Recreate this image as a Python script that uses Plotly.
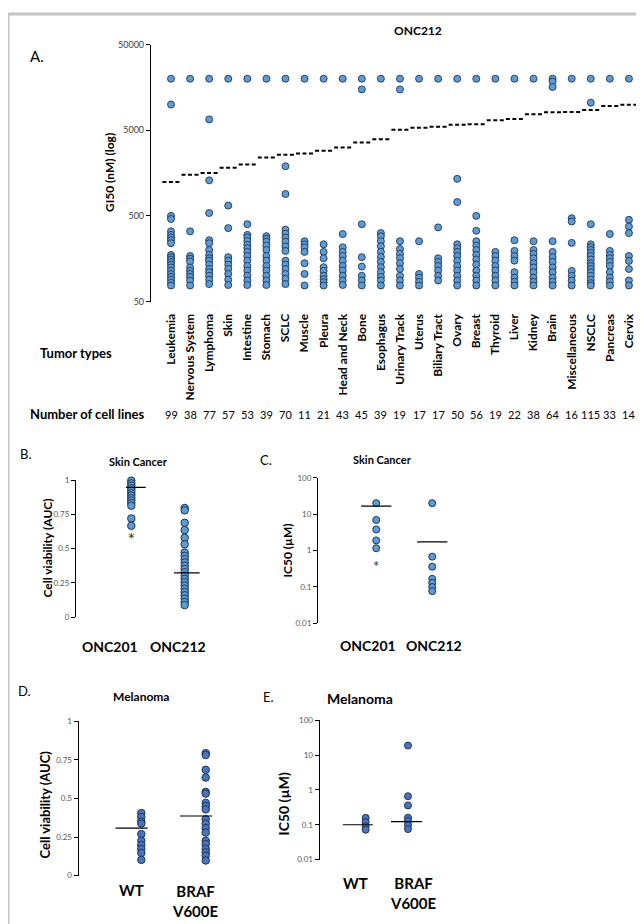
import math
import plotly.graph_objects as go

W, H = 644, 924
FONT = "Lato, 'Open Sans', sans-serif"
FILL_A = "#5f9bd3"
FILL_D = "#4a74c0"
EDGE = "#1d3557"

# ---- panel A: GI50 of ONC212 by tumor type (nM) ----
tumor_types = ["Leukemia", "Nervous System", "Lymphoma", "Skin", "Intestine", "Stomach",
               "SCLC", "Muscle", "Pleura", "Head and Neck", "Bone", "Esophagus",
               "Urinary Track", "Uterus", "Biliary Tract", "Ovary", "Breast", "Thyroid",
               "Liver", "Kidney", "Brain", "Miscellaneous", "NSCLC", "Pancreas", "Cervix"]
cell_lines = [99, 38, 77, 57, 53, 39, 70, 11, 21, 43, 45, 39, 19, 17, 17, 50, 56, 19,
              22, 38, 64, 16, 115, 33, 14]
gi50_mean = [1240, 1510, 1580, 1830, 1990, 2410, 2590, 2680, 2880, 3140, 3590, 3930,
             5070, 5350, 5490, 5780, 5880, 6540, 6780, 7690, 8110, 8170, 8610, 9570, 9900]

leukemia = [20000, 10000, 500, 460, 330, 300, 280, 260, 240, 175, 165, 155, 145, 135,
            125, 115, 105, 97, 90, 83, 77]
nervous = [20000, 330, 170, 158, 147, 125, 114, 105, 97, 88, 77]
lymphoma = [20000, 6700, 1300, 540, 260, 240, 200, 175, 160, 150, 135, 120, 110, 100, 90, 80]
skin = [20000, 660, 360, 165, 150, 135, 120, 105, 90, 78]
intestine = [20000, 400, 300, 280, 255, 230, 210, 190, 170, 150, 130, 115, 100, 88, 78]
stomach = [20000, 290, 270, 250, 225, 200, 170, 150, 130, 115, 100, 88, 78]
sclc = [20000, 1900, 900, 345, 310, 280, 250, 220, 195, 150, 135, 120, 105, 92, 80]
muscle = [20000, 253, 233, 215, 190, 140, 105, 77]
pleura = [20000, 233, 190, 160, 126, 114, 100, 91, 84, 77]
head_neck = [20000, 307, 215, 190, 170, 150, 130, 115, 100, 88, 78]
bone = [20000, 15000, 400, 165, 128, 100, 88, 77]
esophagus = [20000, 315, 289, 253, 221, 190, 166, 145, 126, 110, 97, 88, 77]
urinary = [20000, 15000, 253, 205, 180, 160, 140, 120, 100, 88, 77]
uterus = [20000, 253, 105, 95, 85, 77]
biliary = [20000, 367, 160, 145, 130, 115, 100, 88]
ovary = [20000, 1355, 725, 233, 210, 190, 170, 150, 130, 115, 100, 88, 77]
breast = [20000, 500, 335, 253, 225, 200, 175, 155, 135, 115, 100, 88, 77]
thyroid = [20000, 190, 170, 150, 130, 115, 100, 88, 77]
liver = [20000, 260, 195, 170, 150, 110, 95, 85, 77]
kidney = [20000, 253, 200, 180, 160, 140, 125, 110, 95, 85, 77]
brain = [20000, 18500, 16000, 253, 190, 165, 145, 125, 110, 95, 85, 77]
misc = [20000, 470, 430, 242, 114, 100, 88, 77]
nsclc = [20000, 10500, 400, 233, 215, 200, 185, 170, 155, 140, 130, 120, 110, 100, 90, 82, 77]
pancreas = [20000, 307, 195, 175, 160, 145, 130, 110, 95, 85, 77]
cervix = [20000, 450, 376, 315, 170, 149, 120, 88, 77]
gi50_values = [leukemia, nervous, lymphoma, skin, intestine, stomach, sclc, muscle, pleura,
               head_neck, bone, esophagus, urinary, uterus, biliary, ovary, breast, thyroid,
               liver, kidney, brain, misc, nsclc, pancreas, cervix]

# ---- panels B-E ----
skin_groups = ["ONC201", "ONC212"]
skin_auc_onc201 = [0.996, 0.976, 0.96, 0.94, 0.923, 0.904, 0.887, 0.868, 0.851, 0.832, 0.813, 0.72, 0.666]
skin_auc_onc212 = [0.796, 0.779, 0.688, 0.635, 0.579, 0.531, 0.471, 0.447, 0.423, 0.399, 0.375, 0.351,
                   0.327, 0.303, 0.279, 0.255, 0.231, 0.207, 0.183, 0.159, 0.134, 0.110, 0.087]
skin_auc_mean = [0.947, 0.322]
skin_ic50_onc201 = [20, 6.9, 3.8, 1.9, 1.16]
skin_ic50_onc212 = [20, 0.68, 0.36, 0.167, 0.13, 0.099, 0.077]
skin_ic50_mean = [16.5, 1.73]

mel_groups = ["WT", "BRAF<br>V600E"]
mel_auc_wt = [0.405, 0.379, 0.350, 0.337, 0.269, 0.226, 0.198, 0.173, 0.147, 0.102]
mel_auc_braf = [0.793, 0.781, 0.685, 0.635, 0.542, 0.531, 0.471, 0.450, 0.429, 0.365, 0.337,
                0.307, 0.279, 0.226, 0.205, 0.173, 0.151, 0.130, 0.098]
mel_auc_mean = [0.307, 0.386]
mel_ic50_wt = [0.158, 0.119, 0.09, 0.072]
mel_ic50_braf = [19, 0.66, 0.36, 0.16, 0.128, 0.099, 0.075]
mel_ic50_mean = [0.1, 0.123]


def dom_x(a, b):
    return [a / W, b / W]


def dom_y(top, bottom):
    return [1 - bottom / H, 1 - top / H]


fig = go.Figure()

xs, ys = [], []
for i, vals in enumerate(gi50_values):
    xs += [i] * len(vals)
    ys += vals
fig.add_trace(go.Scatter(x=xs, y=ys, mode="markers", xaxis="x", yaxis="y", cliponaxis=False,
                         marker=dict(size=7, color=FILL_A, line=dict(color=EDGE, width=0.9))))
mx, my = [], []
for i, m in enumerate(gi50_mean):
    mx += [i - 0.45, i + 0.45, None]
    my += [m, m, None]
fig.add_trace(go.Scatter(x=mx, y=my, mode="lines", xaxis="x", yaxis="y",
                         line=dict(color="black", width=2, dash="4px,2.5px")))


def strip(groups, means, ax, fill, size, lo, hi):
    for g, vals in enumerate(groups):
        fig.add_trace(go.Scatter(x=[g] * len(vals), y=vals, mode="markers", xaxis="x" + ax,
                                 yaxis="y" + ax, cliponaxis=False,
                                 marker=dict(size=size, color=fill, line=dict(color=EDGE, width=1))))
    lx, ly = [], []
    for g, m in enumerate(means):
        lx += [g + lo[g], g + hi[g], None]
        ly += [m, m, None]
    fig.add_trace(go.Scatter(x=lx, y=ly, mode="lines", xaxis="x" + ax, yaxis="y" + ax,
                             cliponaxis=False, line=dict(color="black", width=1.2)))


strip([skin_auc_onc201, skin_auc_onc212], skin_auc_mean, "2", FILL_A, 7.5, [-0.1, -0.2], [0.27, 0.28])
strip([skin_ic50_onc201, skin_ic50_onc212], skin_ic50_mean, "3", FILL_A, 7, [-0.27, -0.27], [0.27, 0.27])
strip([mel_auc_wt, mel_auc_braf], mel_auc_mean, "4", FILL_D, 7.5, [-0.4, -0.4], [0.1, 0.1])
strip([mel_ic50_wt, mel_ic50_braf], mel_ic50_mean, "5", FILL_D, 7, [-0.54, -0.4], [0.17, 0.33])

# asterisks under ONC201
fig.add_trace(go.Scatter(x=[0], y=[0.55], mode="text", text=["*"], xaxis="x2", yaxis="y2",
                         textfont=dict(size=18, color="#333333", family=FONT)))
fig.add_trace(go.Scatter(x=[0], y=[0.33], mode="text", text=["*"], xaxis="x3", yaxis="y3",
                         textfont=dict(size=15, color="#333333", family=FONT)))

small = dict(size=8, color="#595959", family=FONT)
yline = dict(showline=True, linecolor="black", linewidth=1.2, ticks="outside", ticklen=4,
             tickcolor="black", showgrid=False, zeroline=False, tickfont=small)
xhide = dict(showline=False, showticklabels=False, ticks="", showgrid=False, zeroline=False)

fig.update_layout(
    width=W, height=924, margin=dict(l=0, r=0, t=0, b=0),
    paper_bgcolor="white", plot_bgcolor="white", showlegend=False,
    font=dict(family=FONT, color="black"),
    xaxis=dict(domain=dom_x(143, 632), range=[-1.048, 24.58], anchor="y", tickmode="array",
               tickvals=list(range(len(tumor_types))), ticktext=tumor_types, tickangle=-90,
               ticks="", showline=False, showgrid=False, zeroline=False, ticklabelstandoff=9,
               tickfont=dict(size=12, color="black", family=FONT, weight="bold")),
    yaxis=dict(domain=dom_y(31, 291), type="log", range=[math.log10(50), math.log10(50000)],
               anchor="x", tickmode="array", tickvals=[50, 500, 5000, 50000],
               ticktext=["50", "500", "5000", "50000"], **{**yline, "tickfont": dict(size=9, color="#404040", family=FONT)}),
    xaxis2=dict(domain=dom_x(68, 219.4), range=[-1.036, 1.8], anchor="y2", **xhide),
    yaxis2=dict(domain=dom_y(471.7, 610.3), range=[0, 1], anchor="x2", tickmode="array",
                tickvals=[0, 0.25, 0.5, 0.75, 1], ticktext=["0", "0.25", "0.5", "0.75", "1"], **yline),
    xaxis3=dict(domain=dom_x(310, 469), range=[-1.04, 1.8], anchor="y3", **xhide),
    yaxis3=dict(domain=dom_y(469.3, 616.7), type="log", range=[-2, 2], anchor="x3", tickmode="array",
                tickvals=[0.01, 0.1, 1, 10, 100], ticktext=["0.01", "0.1", "1", "10", "100"], **yline),
    xaxis4=dict(domain=dom_x(70.7, 242.8), range=[-0.972, 1.7], anchor="y4", **xhide),
    yaxis4=dict(domain=dom_y(715.7, 872), range=[0, 1], anchor="x4", tickmode="array",
                tickvals=[0, 0.25, 0.5, 0.75, 1], ticktext=["0", "0.25", "0.5", "0.75", "1"], **yline),
    xaxis5=dict(domain=dom_x(311.7, 433.8), range=[-1.087, 1.8], anchor="y5", **xhide),
    yaxis5=dict(domain=dom_y(715, 855.7), type="log", range=[-2, 2], anchor="x5", tickmode="array",
                tickvals=[0.01, 0.1, 1, 10, 100], ticktext=["0.01", "0.1", "1", "10", "100"], **yline),
)


def label(x, y, s, size, bold=True, angle=0, xanchor="center"):
    fig.add_annotation(x=x / W, y=1 - y / H, xref="paper", yref="paper", text=s, showarrow=False,
                       textangle=angle, xanchor=xanchor, yanchor="middle",
                       font=dict(size=size, family=FONT, color="black",
                                 weight="bold" if bold else "normal"))


# panel A text
label(20, 43, "A.", 15, bold=False, xanchor="left")
label(410, 17, "ONC212", 12)
label(101, 161, "GI50 (nM) (log)", 12, angle=-90)
label(68, 343, "Tumor types", 13)
label(20, 405, "Number of cell lines", 13, xanchor="left")
for i, n in enumerate(cell_lines):
    fig.add_annotation(x=i, y=1 - 405 / H, xref="x", yref="paper", text=str(n), showarrow=False,
                       font=dict(size=11, family=FONT, color="black"))

# panel B
label(10, 445, "B.", 13, bold=False, xanchor="left")
label(130, 453, "Skin Cancer", 11)
label(40, 541, "Cell viability (AUC)", 12, angle=-90)
label(102, 640, skin_groups[0], 14)
label(170, 640, skin_groups[1], 14)

# panel C
label(250, 451, "C.", 13, bold=False, xanchor="left")
label(374, 451, "Skin Cancer", 11)
label(280, 543, "IC50 (µM)", 12, angle=-90)
label(360, 639, skin_groups[0], 14)
label(426, 639, skin_groups[1], 14)

# panel D
label(8, 685, "D.", 13, bold=False, xanchor="left")
label(133, 691, "Melanoma", 12)
label(37, 800, "Cell viability (AUC)", 13, angle=-90)
label(123, 887, mel_groups[0], 15)
label(187, 898, mel_groups[1], 15)

# panel E
label(253, 691, "E.", 13, bold=False, xanchor="left")
label(352, 693, "Melanoma", 14)
label(275, 800, "IC50 (µM)", 14, angle=-90)
label(347, 879, mel_groups[0], 15)
label(405, 890, mel_groups[1], 15)

fig.add_shape(type="rect", xref="paper", yref="paper", x0=0, y0=0, x1=1, y1=1,
              line=dict(color="#c4c4c4", width=3))

fig.write_html("out.html")
